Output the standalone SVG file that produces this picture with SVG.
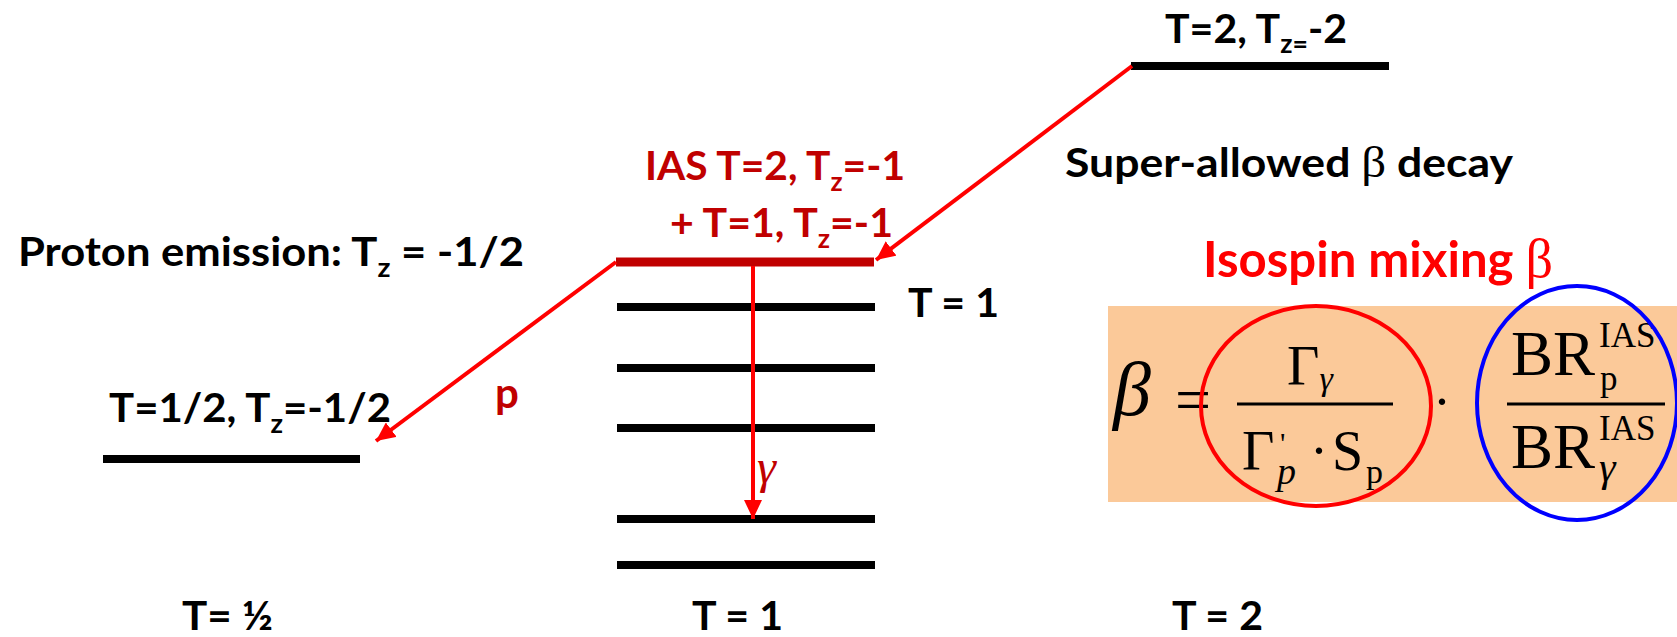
<svg xmlns="http://www.w3.org/2000/svg" width="1677" height="637" viewBox="0 0 1677 637">
<style>
.lbl{font-family:Lato,"Liberation Sans",sans-serif;font-weight:bold;font-size:40px;fill:#000}
.red{fill:#C00000}
.lvl{stroke:#000;stroke-width:8;fill:none}
.ias{stroke:#C00000;stroke-width:9;fill:none}
.arr{stroke:#FF0000;stroke-width:4;fill:none;marker-end:url(#ah)}
.m{font-family:"Liberation Serif","Times New Roman",serif;fill:#000}
.gr{font-family:"Liberation Serif","Times New Roman",serif;font-weight:normal}
.bar{stroke:#000;stroke-width:3}
</style>
<defs>
<marker id="ah" markerUnits="userSpaceOnUse" markerWidth="20" markerHeight="18" refX="19" refY="9" orient="auto">
<path d="M0,0 L19,9 L0,18 Z" fill="#FF0000"/>
</marker>
</defs>
<rect width="1677" height="637" fill="#fff"/>

<g id="level-T2-Tz-2">
<line class="lvl" x1="1131" y1="66" x2="1389" y2="66"/>
<text class="lbl" x="1165" y="43" textLength="182" lengthAdjust="spacingAndGlyphs">T=2, T<tspan font-size="26" dy="10">z=</tspan><tspan dy="-10">-2</tspan></text>
</g>

<g id="level-IAS">
<line class="ias" x1="616" y1="262" x2="874" y2="262"/>
<text class="lbl red" x="645" y="180" textLength="260" lengthAdjust="spacingAndGlyphs">IAS T=2, T<tspan font-size="26" dy="11">z</tspan><tspan dy="-11">=-1</tspan></text>
<text class="lbl red" x="670" y="237" textLength="223" lengthAdjust="spacingAndGlyphs">+ T=1, T<tspan font-size="26" dy="11">z</tspan><tspan dy="-11">=-1</tspan></text>
</g>

<g id="levels-T1">
<line class="lvl" x1="617" y1="307" x2="875" y2="307"/>
<line class="lvl" x1="617" y1="368" x2="875" y2="368"/>
<line class="lvl" x1="617" y1="428" x2="875" y2="428"/>
<line class="lvl" x1="617" y1="519" x2="875" y2="519"/>
<line class="lvl" x1="617" y1="565" x2="875" y2="565"/>
<text class="lbl" x="908" y="317" textLength="91" lengthAdjust="spacingAndGlyphs">T = 1</text>
</g>

<g id="level-T12">
<line class="lvl" x1="103" y1="459" x2="360" y2="459"/>
<text class="lbl" x="109" y="422" textLength="282" lengthAdjust="spacingAndGlyphs">T=1/2, T<tspan font-size="26" dy="11">z</tspan><tspan dy="-11">=-1/2</tspan></text>
</g>

<g id="label-proton">
<text class="lbl" x="18" y="266" textLength="506" lengthAdjust="spacingAndGlyphs">Proton emission: T<tspan font-size="26" dy="11">z</tspan><tspan dy="-11"> = -1/2</tspan></text>
</g>

<g id="label-superallowed">
<text class="lbl" x="1065" y="177" textLength="448" lengthAdjust="spacingAndGlyphs">Super-allowed <tspan class="gr" font-size="44">β</tspan> decay</text>
</g>

<g id="label-isospin">
<text class="lbl" x="1203" y="277" style="font-size:49px;fill:#FF0000" textLength="350" lengthAdjust="spacingAndGlyphs">Isospin mixing <tspan class="gr" style="font-size:54px">β</tspan></text>
</g>

<g id="connectors">
<line class="arr" x1="1132" y1="66" x2="876" y2="260"/>
<line class="arr" x1="616" y1="262" x2="376" y2="441"/>
<line class="arr" x1="753" y1="266" x2="753" y2="519"/>
<text class="lbl red" x="495" y="408" style="font-size:42px">p</text>
<text class="m" x="757" y="483" style="font-size:48px;font-style:italic;fill:#C00000">γ</text>
</g>

<g id="formula">
<rect x="1108" y="306" width="569" height="196" fill="#FBC999"/>
<text class="m" x="1113" y="415" style="font-size:76px;font-style:italic">β</text>
<text class="m" x="1193" y="421" text-anchor="middle" style="font-size:64px">=</text>
<line class="bar" x1="1237" y1="404" x2="1393" y2="404"/>
<text class="m" x="1287" y="385" style="font-size:56px">Γ<tspan style="font-size:34px;font-style:italic" dy="5">γ</tspan></text>
<text class="m" x="1242" y="470" style="font-size:56px">Γ</text>
<text class="m" x="1280" y="453" style="font-size:30px">'</text>
<text class="m" x="1277" y="484" style="font-size:38px;font-style:italic">p</text>
<text class="m" x="1319" y="469" text-anchor="middle" style="font-size:54px">·</text>
<text class="m" x="1332" y="470" style="font-size:56px">S</text>
<text class="m" x="1366" y="483" style="font-size:34px">p</text>
<text class="m" x="1442" y="420" text-anchor="middle" style="font-size:54px">·</text>
<line class="bar" x1="1507" y1="404" x2="1665" y2="404"/>
<text class="m" x="1511" y="375" style="font-size:63px">BR</text>
<text class="m" x="1599" y="347" style="font-size:35px">IAS</text>
<text class="m" x="1600" y="390" style="font-size:35px">p</text>
<text class="m" x="1511" y="468" style="font-size:63px">BR</text>
<text class="m" x="1599" y="440" style="font-size:35px">IAS</text>
<text class="m" x="1599" y="481" style="font-size:42px;font-style:italic">γ</text>
<ellipse cx="1316" cy="406" rx="115" ry="100" fill="none" stroke="#FF0000" stroke-width="4"/>
<ellipse cx="1577" cy="403" rx="100" ry="117" fill="none" stroke="#0000FF" stroke-width="4"/>
</g>

<g id="axis-labels">
<text class="lbl" x="182" y="630" textLength="91" lengthAdjust="spacingAndGlyphs">T= ½</text>
<text class="lbl" x="692" y="630" textLength="91" lengthAdjust="spacingAndGlyphs">T = 1</text>
<text class="lbl" x="1172" y="630" textLength="91" lengthAdjust="spacingAndGlyphs">T = 2</text>
</g>
</svg>
